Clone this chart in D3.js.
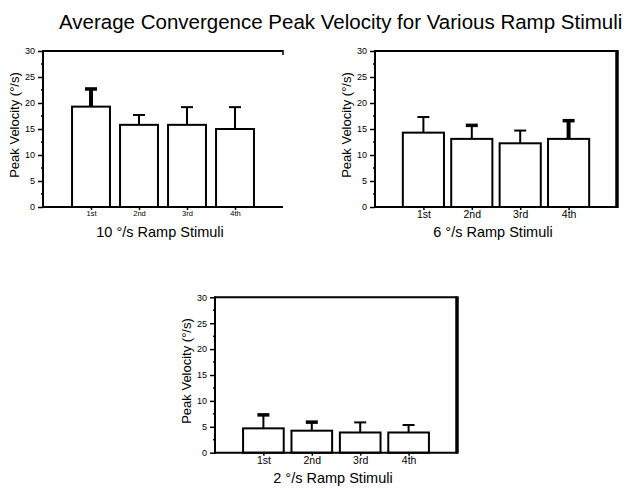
<!DOCTYPE html>
<html>
  <head>
    <meta charset="utf-8">
    <title>Convergence Peak Velocity</title>
    <script src="https://d3js.org/d3.v7.min.js"></script>
    <style>
      body { margin: 0; background: #fff; }
      text { font-family: "Liberation Sans", Arial, sans-serif; fill: #000; }
    </style>
  </head>
  <body>
    <svg id="chart"></svg>
    <script>
      // data
      var categories = ["1st", "2nd", "3rd", "4th"];
      var yTicks = [0, 5, 10, 15, 20, 25, 30];
      var chartTitle = "Average Convergence Peak Velocity for Various Ramp Stimuli";
      var yLabel = "Peak Velocity (\u00B0/s)";
      var stimuli = ["10 \u00B0/s Ramp Stimuli", "6 \u00B0/s Ramp Stimuli", "2 \u00B0/s Ramp Stimuli"];
      var mean10 = [19.3, 15.8, 15.8, 15.0];
      var sd10 = [3.4, 1.9, 3.4, 4.2];
      var mean6 = [14.3, 13.1, 12.25, 13.1];
      var sd6 = [3.0, 2.6, 2.45, 3.5];
      var mean2 = [4.7, 4.25, 3.9, 3.9];
      var sd2 = [2.6, 1.65, 1.95, 1.45];

      // layout of the three panels (pixels)
      var panels = [
        {title: stimuli[0], mean: mean10, sd: sd10, left: 43, right: 283, top: 51, bottom: 207,
         barFrac: 0.79, xFont: 7.5, border: false, heavyStem: [1, 0, 0, 0], heavyCap: [1, 0, 0, 0]},
        {title: stimuli[1], mean: mean6, sd: sd6, left: 375, right: 617, top: 51, bottom: 207,
         barFrac: 0.85, xFont: 10.5, border: true, heavyStem: [0, 0, 0, 1], heavyCap: [0, 1, 0, 1]},
        {title: stimuli[2], mean: mean2, sd: sd2, left: 215, right: 457, top: 297.3, bottom: 452.7,
         barFrac: 0.84, xFont: 10.5, border: true, heavyStem: [0, 0, 0, 0], heavyCap: [1, 1, 0, 0]}
      ];

      var svg = d3.select("#chart").attr("width", 624).attr("height", 489);

      svg.append("text")
        .attr("x", 59)
        .attr("y", 29)
        .attr("font-size", 20.5)
        .text(chartTitle);

      panels.forEach(function(p) {
        var x = d3.scaleLinear().domain([0, 5]).range([p.left, p.right]);
        var y = d3.scaleLinear().domain([0, 30]).range([p.bottom, p.top]);
        var step = x(1) - x(0);
        var bw = step * p.barFrac;
        var g = svg.append("g");

        // bars
        g.selectAll("rect.bar")
          .data(p.mean)
          .enter()
          .append("rect")
          .attr("x", function(d, i) { return x(i + 1) - bw / 2; })
          .attr("y", function(d) { return y(d); })
          .attr("width", bw)
          .attr("height", function(d) { return y(0) - y(d); })
          .attr("fill", "#fff")
          .attr("stroke", "#000")
          .attr("stroke-width", 2);

        // error bars (upper only)
        p.mean.forEach(function(m, i) {
          var cx = x(i + 1);
          g.append("line")
            .attr("x1", cx).attr("x2", cx)
            .attr("y1", y(m)).attr("y2", y(m + p.sd[i]))
            .attr("stroke", "#000")
            .attr("stroke-width", p.heavyStem[i] ? 4 : 2);
          g.append("line")
            .attr("x1", cx - 6).attr("x2", cx + 6)
            .attr("y1", y(m + p.sd[i])).attr("y2", y(m + p.sd[i]))
            .attr("stroke", "#000")
            .attr("stroke-width", p.heavyCap[i] ? 3.5 : 2);
        });

        // y axis with minor ticks
        var yAxis = d3.axisLeft(y).tickValues(yTicks).tickSize(5).tickPadding(3);
        var ya = g.append("g")
          .attr("transform", "translate(" + p.left + ",0)")
          .call(yAxis);
        ya.select(".domain").remove();
        ya.selectAll("line").attr("stroke-width", 1.5);
        ya.selectAll("text").attr("font-size", 9).attr("font-family", "Liberation Sans, Arial, sans-serif");
        g.selectAll("line.minor")
          .data(d3.range(2.5, 30, 5))
          .enter()
          .append("line")
          .attr("x1", p.left - 2).attr("x2", p.left)
          .attr("y1", function(d) { return y(d); })
          .attr("y2", function(d) { return y(d); })
          .attr("stroke", "#000")
          .attr("stroke-width", 1.5);

        // x axis
        var xAxis = d3.axisBottom(x)
          .tickValues([1, 2, 3, 4])
          .tickFormat(function(d) { return categories[d - 1]; })
          .tickSize(3)
          .tickPadding(1);
        var xa = g.append("g")
          .attr("transform", "translate(0," + p.bottom + ")")
          .call(xAxis);
        xa.select(".domain").remove();
        xa.selectAll("line").attr("stroke-width", 1.5);
        xa.selectAll("text").attr("font-size", p.xFont).attr("font-family", "Liberation Sans, Arial, sans-serif");

        // frame: left, bottom, top lines
        g.append("line")
          .attr("x1", p.left).attr("x2", p.left)
          .attr("y1", p.top - 1).attr("y2", p.bottom + 1)
          .attr("stroke", "#000").attr("stroke-width", 2);
        g.append("line")
          .attr("x1", p.left - 1).attr("x2", p.right)
          .attr("y1", p.bottom).attr("y2", p.bottom)
          .attr("stroke", "#000").attr("stroke-width", 2);
        g.append("line")
          .attr("x1", p.left).attr("x2", p.right)
          .attr("y1", p.top).attr("y2", p.top)
          .attr("stroke", "#000").attr("stroke-width", 2);
        if (p.border) {
          g.append("line")
            .attr("x1", p.right).attr("x2", p.right)
            .attr("y1", p.top - 1).attr("y2", p.bottom + 1)
            .attr("stroke", "#000").attr("stroke-width", 3.5);
        } else {
          g.append("line")
            .attr("x1", p.right).attr("x2", p.right)
            .attr("y1", p.top - 1).attr("y2", p.top + 4)
            .attr("stroke", "#000").attr("stroke-width", 1.5);
        }

        // axis titles
        var ly = (p.top + p.bottom) / 2 - 4;
        g.append("text")
          .attr("transform", "translate(" + (p.left - 24) + "," + ly + ") rotate(-90)")
          .attr("text-anchor", "middle")
          .attr("font-size", 13)
          .text(yLabel);
        g.append("text")
          .attr("x", (p.left + p.right) / 2 - 3)
          .attr("y", p.bottom + 30)
          .attr("text-anchor", "middle")
          .attr("font-size", 14.5)
          .text(p.title);
      });
    </script>
  </body>
</html>
